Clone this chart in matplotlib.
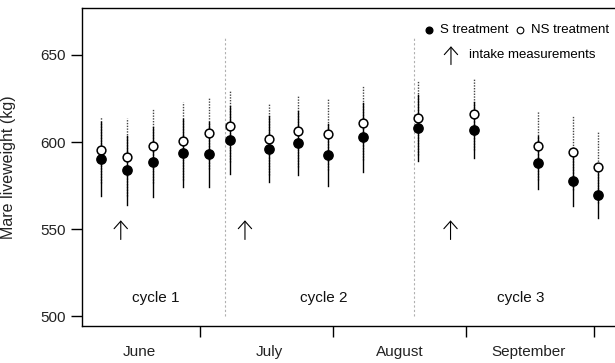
import matplotlib
matplotlib.use("Agg")
import matplotlib.pyplot as plt
import numpy as np

plt.rcParams["font.family"] = ["Liberation Sans", "DejaVu Sans"]

# days since 1 June
days = [7, 13, 19, 26, 32, 37, 46, 53, 60, 68, 81, 94, 109, 117, 123]
s_mean = [590.2, 583.8, 588.6, 593.8, 592.9, 601.2, 596.1, 599.6, 592.5, 602.7, 607.9, 606.9, 588.2, 577.6, 569.3]
s_err = [21.1, 19.7, 20.0, 19.4, 18.6, 19.7, 19.1, 18.5, 17.8, 19.7, 19.0, 16.2, 15.0, 14.5, 13.1]
ns_mean = [595.4, 591.5, 597.9, 600.6, 605.0, 609.4, 601.9, 606.5, 604.5, 611.2, 613.7, 616.0, 597.9, 594.0, 585.4]
ns_err = [19.1, 22.4, 21.2, 22.2, 20.6, 20.7, 20.8, 20.7, 20.8, 21.3, 21.2, 20.4, 19.7, 21.6, 20.7]

cycle_breaks = [35.8, 80.0]
intake_days = [11.5, 40.5, 88.5]
cycle_labels = ["cycle 1", "cycle 2", "cycle 3"]
cycle_pos = [19.7, 59.0, 104.9]
month_ticks = [30, 61, 92, 122]
month_labels = ["June", "July", "August", "September"]
month_pos = [15.8, 46.2, 76.6, 106.8]
y_ticks = [500, 550, 600, 650]

ARROW = dict(arrowstyle="->,head_length=0.45,head_width=0.4", color="black",
             lw=0.8, mutation_scale=12, shrinkA=0, shrinkB=0)

fig = plt.figure(figsize=(6.15, 3.63), dpi=100)
ax = fig.add_axes([82 / 615, 37 / 363, 1 - 82 / 615, 318 / 363])
ax.set_xlim(2.45, 126.9)
ax.set_ylim(494.3, 677.0)

# cycle separators
for xb in cycle_breaks:
    ax.plot([xb, xb], [500, 660], color="#b0b0b0", lw=0.8, ls=(0, (2, 2)))

# error bars: NS dotted, S solid
for d, m, e in zip(days, ns_mean, ns_err):
    ax.plot([d, d], [m - e, m + e], color="#444444", lw=1.0, ls=(0, (1, 1)))
for d, m, e in zip(days, s_mean, s_err):
    ax.plot([d, d], [m - e, m + e], color="black", lw=1.0)

ax.plot(days, ns_mean, ls="none", marker="o", ms=6.3, mfc="white", mec="black", mew=1.1)
ax.plot(days, s_mean, ls="none", marker="o", ms=6.7, mfc="black", mec="black")

# intake measurement arrows
for xd in intake_days:
    ax.annotate("", xy=(xd, 555), xytext=(xd, 544), arrowprops=ARROW)

for lab, xp in zip(cycle_labels, cycle_pos):
    ax.text(xp, 510.3, lab, ha="center", va="center", fontsize=11, color="#111111")

# legend
ax.plot([83.5], [664.3], marker="o", ms=4.8, color="black", ls="none")
ax.text(86.0, 664.3, "S treatment", ha="left", va="center", fontsize=9.5)
ax.plot([104.7], [664.3], marker="o", ms=4.8, mfc="white", mec="black", mew=0.8, ls="none")
ax.text(107.2, 664.3, "NS treatment", ha="left", va="center", fontsize=9.5)
ax.annotate("", xy=(88.6, 655.0), xytext=(88.6, 644.5), arrowprops=ARROW)
ax.text(92.8, 649.8, "intake measurements", ha="left", va="center", fontsize=9.5)

# axes styling
ax.spines["right"].set_visible(False)
for s in ["left", "top", "bottom"]:
    ax.spines[s].set_linewidth(1.0)
ax.set_yticks(y_ticks)
ax.set_yticklabels([str(v) for v in y_ticks], fontsize=11, color="#222222")
ax.set_xticks(month_ticks)
ax.set_xticklabels([])
ax.tick_params(axis="both", direction="out", length=8, width=1.0, pad=3.5)
for lab, xp in zip(month_labels, month_pos):
    ax.text(xp, -0.082, lab, transform=ax.get_xaxis_transform(),
            ha="center", va="center", fontsize=11, color="#222222")

ax.set_ylabel("Mare liveweight (kg)", fontsize=11.5, color="#222222")
ax.yaxis.set_label_coords(-(82 - 16) / 533, 0.5)

fig.savefig("out.png", dpi=100)
